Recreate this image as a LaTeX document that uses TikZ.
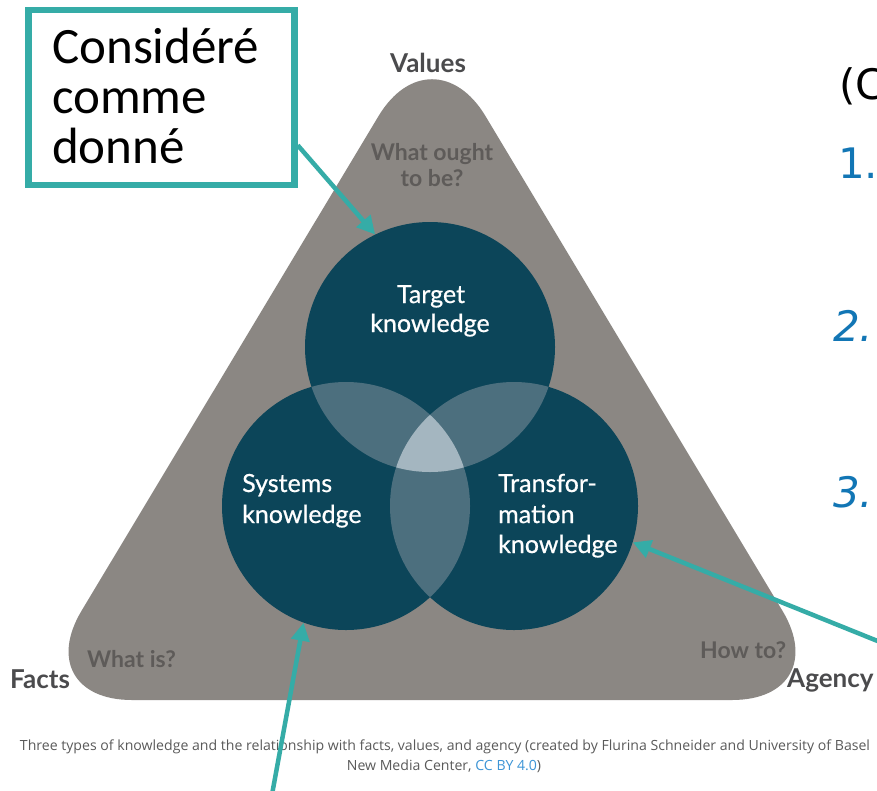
\documentclass[tikz,border=0pt]{standalone}
\usepackage{fontspec}
\usepackage{graphicx}
\usetikzlibrary{arrows.meta,calc}
\newfontfamily\lato{Lato}
\newfontfamily\latom[FakeBold=0.7]{Lato}
\newfontfamily\carlito{Carlito}
\newfontfamily\dejavu{DejaVu Sans}
\newfontfamily\opensans{Open Sans}
\definecolor{trigray}{HTML}{8B8783}
\definecolor{circ}{HTML}{0C4559}
\definecolor{lens}{HTML}{4C6F7E}
\definecolor{triple}{HTML}{A4B6C0}
\definecolor{qgray}{HTML}{5E5B59}
\definecolor{lblgray}{HTML}{4B4B4D}
\definecolor{teal}{HTML}{35ACA7}
\definecolor{numblue}{HTML}{1276B5}
\definecolor{capgray}{HTML}{5A5A5A}
\definecolor{linkblue}{HTML}{3D95D6}
\newsavebox\capboxa
\newdimen\capw
\newcommand\capfont{\opensans\fontsize{14}{17}\selectfont\color{capgray}}
\newcommand\captionone{\sbox\capboxa{\capfont Three types of knowledge and the relationship with facts, values, and agency (created by Flurina Schneider and University of Basel}%
\capw=\wd\capboxa
\pgfmathsetmacro\capsx{850/\capw}%
\xdef\capsxg{\capsx}%
\scalebox{\capsx}[1]{\usebox\capboxa}}
\begin{document}
\begin{tikzpicture}[x=1pt,y=-1pt,
  venn/.style={circle,fill=circ,draw=none,inner sep=0pt},
  ctext/.style={inner sep=0pt,text=white,font=\latom\fontsize{25}{29}\selectfont},
  qtext/.style={inner sep=0pt,text=qgray,font=\lato\bfseries\fontsize{23}{26}\selectfont},
  lbl/.style={inner sep=0pt,text=lblgray,font=\lato\bfseries\fontsize{26}{30}\selectfont},
  boxst/.style={draw=teal,line width=6.5pt,fill=white,inner sep=0pt},
  boxtext/.style={inner sep=0pt,text=black,font=\carlito\fontsize{51}{50}\selectfont},
  num/.style={inner sep=0pt,text=numblue,font=\dejavu\fontsize{42}{46}\selectfont},
  arr/.style={draw=teal,line width=4.5pt,-{Triangle[length=18pt,width=18pt]}}]
\useasboundingbox (0,0) rectangle (877,790);
\fill[white] (0,0) rectangle (877,790);
% rounded triangle
\fill[trigray,rounded corners=104pt] (432,700) -- (836,700) -- (432,27) -- (28,700) -- cycle;
% circles
\node[venn,minimum size=250pt] (tgt) at (430,347) {};
\node[venn,minimum size=248pt] (sys) at (346,506) {};
\node[venn,minimum size=248pt] (trs) at (514,506) {};
\begin{scope}
  \clip (430,347) circle[radius=125pt];
  \fill[lens] (346,506) circle[radius=124pt];
  \fill[lens] (514,506) circle[radius=124pt];
\end{scope}
\begin{scope}
  \clip (346,506) circle[radius=124pt];
  \fill[lens] (514,506) circle[radius=124pt];
\end{scope}
\begin{scope}
  \clip (430,347) circle[radius=125pt];
  \clip (346,506) circle[radius=124pt];
  \fill[triple] (514,506) circle[radius=124pt];
\end{scope}
% circle texts
\node[ctext,anchor=base] (t1) at (431,303) {Target};
\node[ctext,anchor=base] (t2) at (430,332) {knowledge};
\node[ctext,anchor=base west] (s1) at (242,492) {Systems};
\node[ctext,anchor=base west] (s2) at (242,523) {knowledge};
\node[ctext,anchor=base west] (r1) at (498,492) {Transfor-};
\node[ctext,anchor=base west] (r2) at (498,523) {mation};
\node[ctext,anchor=base west] (r3) at (498,553) {knowledge};
% corner labels
\node[lbl,anchor=base] (values) at (428,72) {Values};
\node[lbl,anchor=base west] (facts) at (10,688) {Facts};
\node[lbl,anchor=base west] (agency) at (787,687) {Agency};
\node[qtext,anchor=base] (q1a) at (432,160) {What ought};
\node[qtext,anchor=base] (q1b) at (432,186) {to be?};
\node[qtext,anchor=base west] (q2) at (87,667) {What is?};
\node[qtext,anchor=base west] (q3) at (700,658) {How to?};
% caption
\node[anchor=base,inner sep=0pt] (cap1) at (445,750) {\captionone};
\node[anchor=base,inner sep=0pt] (cap2) at (444,770) {\scalebox{\capsxg}[1]{\capfont New Media Center, \textcolor{linkblue}{CC BY 4.0})}};
% callout box
\node[boxst,minimum width=266pt,minimum height=175pt] (box) at (161.5,97.5) {};
\node[boxtext,anchor=base west] (b1) at (52,63) {Considéré};
\node[boxtext,anchor=base west] (b2) at (52,113) {comme};
\node[boxtext,anchor=base west] (b3) at (52,163) {donné};
% right column
\node[inner sep=0pt,anchor=base west,font=\dejavu\fontsize{42}{46}\selectfont] (cpar) at (839,99) {(C};
\node[num,anchor=base west] (n1) at (838,178) {1.};
\node[num,anchor=base west,font=\dejavu\itshape\fontsize{42}{46}\selectfont] (n2) at (833,341) {2.};
\node[num,anchor=base west,font=\dejavu\itshape\fontsize{42}{46}\selectfont] (n3) at (833,507) {3.};
% arrows
\coordinate (bstart) at (271,800);
\coordinate (rstart) at (890,646);
\draw[arr] ($(box.south east)+(0,-43)$) -- (tgt.116);
\draw[arr] (bstart) -- (sys.-110);
\draw[arr] (rstart) -- (trs.-17.6);
\end{tikzpicture}
\end{document}
